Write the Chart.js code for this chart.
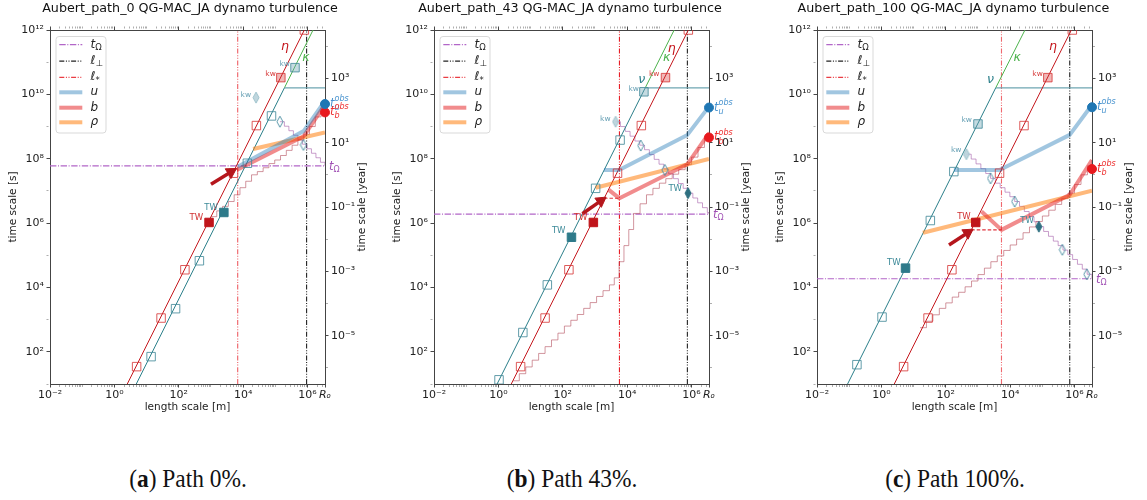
<!DOCTYPE html>
<html><head><meta charset="utf-8">
<script src="https://cdn.jsdelivr.net/npm/chart.js@4.4.1/dist/chart.umd.min.js"></script>
<style>
html,body{margin:0;padding:0;background:#fff;}
body{width:1147px;height:500px;position:relative;overflow:hidden;}
canvas{position:absolute;top:0;}
.cap{position:absolute;top:464px;font-family:"Liberation Serif","DejaVu Serif",serif;font-size:26px;line-height:29px;color:#111;white-space:nowrap;transform:translateX(-50%) scaleX(0.9);}
.cap b{font-weight:bold;}
</style></head><body>
<script>
Chart.defaults.font.family = "'DejaVu Sans', sans-serif";
Chart.defaults.color = '#222';

// ---------------- data (log10 of metres for x, log10 of seconds for y) ----------------
const RO = 3.48e6, LOG_RO = Math.log10(RO), YEAR = 3.15576e7;

const xTickVals = [1e-2, 1, 1e2, 1e4, 1e6];
const xTickLabels = ['10⁻²', '10⁰', '10²', '10⁴', '10⁶'];
const roTickLabel = 'Rₒ';
const yTickVals = [1e2, 1e4, 1e6, 1e8, 1e10, 1e12];
const yTickLabels = ['10²', '10⁴', '10⁶', '10⁸', '10¹⁰', '10¹²'];
const yrTickVals = [1e-5, 1e-3, 1e-1, 1e1, 1e3];
const yrTickLabels = ['10⁻⁵', '10⁻³', '10⁻¹', '10¹', '10³'];

const titles = ['Aubert_path_0 QG-MAC_JA dynamo turbulence',
                'Aubert_path_43 QG-MAC_JA dynamo turbulence',
                'Aubert_path_100 QG-MAC_JA dynamo turbulence'];
const captionKeys = ['a', 'b', 'c'];
const captionTexts = ['Path 0%.', 'Path 43%.', 'Path 100%.'];

const tOmega = [7.78, 6.28, 4.27];
const lPerp = [5.97, 5.87, 5.85];
const lStar = [3.83, 3.76, 3.73];
const obsU = [9.70, 9.59, 9.60];
const obsB = [9.44, 8.66, 7.68];

const etaLine = [[0.4, 1.0], [5.9, 12.0]];
const nuBottomX = [0.68, -0.04, -1.05];
const nuKinkX = [5.28, 4.56, 3.55];
const nuFlatY = [10.2, 10.2, 10.2];
const kappaTopX = [6.17, 5.46, 4.46];

const uA = [[3.83, 7.75], [5.88, 8.86], [6.54, 9.80]];
const bA = [[3.80, 7.65], [5.88, 8.70], [6.54, 9.68]];
const rhoA = [[4.31, 8.30], [6.54, 8.82]];
const uB = [[3.28, 7.65], [3.75, 7.65], [5.87, 8.74], [6.54, 9.62]];
const bB = [[3.43, 7.03], [3.76, 6.77], [5.87, 7.83], [6.54, 8.79]];
const rhoB = [[3.02, 7.10], [6.54, 7.99]];
const uC = [[2.25, 7.65], [3.67, 7.65], [5.85, 8.74], [6.54, 9.67]];
const bC = [[3.11, 6.36], [3.73, 5.79], [5.85, 6.88], [6.54, 7.96]];
const rhoC = [[1.29, 5.70], [6.54, 7.01]];

const stairUpAx = [3.0, 3.18, 3.36, 3.54, 3.72, 3.9, 4.08, 4.26, 4.44, 4.62, 4.8, 4.98, 5.16, 5.34, 5.52, 5.7, 5.88, 6.06, 6.24, 6.42, 6.54];
const stairUpAy = [6.2, 6.38, 6.52, 6.67, 6.88, 7.1, 7.3, 7.5, 7.6, 7.72, 7.85, 7.96, 8.1, 8.26, 8.42, 8.58, 8.76, 9.0, 9.3, 9.58, 9.75];
const stairUpBx = [0.45, 0.65, 0.85, 1.05, 1.25, 1.45, 1.65, 1.85, 2.05, 2.25, 2.45, 2.65, 2.85, 3.05, 3.25, 3.45, 3.6, 3.75, 3.9, 4.05, 4.2, 4.4, 4.6, 4.8, 5.0, 5.2, 5.4, 5.6, 5.8, 6.0, 6.2, 6.4, 6.54];
const stairUpBy = [1.1, 1.32, 1.53, 1.74, 1.95, 2.16, 2.37, 2.58, 2.8, 2.98, 3.16, 3.35, 3.53, 3.72, 3.9, 4.08, 4.3, 4.8, 5.3, 5.8, 6.3, 6.6, 6.88, 7.08, 7.24, 7.38, 7.52, 7.66, 7.82, 8.05, 8.35, 8.65, 8.84];
const stairUpCx = [1.2, 1.4, 1.6, 1.8, 2.0, 2.2, 2.4, 2.6, 2.8, 3.0, 3.2, 3.4, 3.6, 3.8, 4.0, 4.2, 4.4, 4.6, 4.8, 5.0, 5.2, 5.4, 5.6, 5.8, 6.0, 6.2, 6.4, 6.54];
const stairUpCy = [2.75, 2.95, 3.15, 3.35, 3.52, 3.7, 3.85, 4.02, 4.2, 4.4, 4.6, 4.8, 4.98, 5.15, 5.32, 5.5, 5.7, 5.88, 6.05, 6.22, 6.4, 6.58, 6.76, 6.93, 7.2, 7.5, 7.78, 7.96];

const stairDnAx = [5.14, 5.28, 5.42, 5.56, 5.7, 5.84, 5.98, 6.12, 6.26, 6.4, 6.54];
const stairDnAy = [9.15, 9.01, 8.87, 8.73, 8.59, 8.45, 8.31, 8.17, 8.03, 7.89, 7.78];
const stairDnBx = [3.64, 3.79, 3.94, 4.09, 4.24, 4.39, 4.54, 4.69, 4.84, 4.99, 5.14, 5.29, 5.44, 5.59, 5.74, 5.89, 6.04, 6.19, 6.34, 6.49, 6.54];
const stairDnBy = [9.15, 9.0, 8.85, 8.7, 8.55, 8.42, 8.28, 8.13, 7.98, 7.83, 7.68, 7.53, 7.38, 7.23, 7.08, 6.93, 6.78, 6.63, 6.48, 6.33, 6.28];
const stairDnCx = [2.64, 2.79, 2.94, 3.09, 3.24, 3.39, 3.54, 3.69, 3.84, 3.99, 4.14, 4.29, 4.44, 4.59, 4.74, 4.89, 5.04, 5.19, 5.34, 5.49, 5.64, 5.79, 5.94, 6.09, 6.24, 6.39, 6.54];
const stairDnCy = [8.14, 7.99, 7.84, 7.69, 7.54, 7.39, 7.24, 7.1, 6.96, 6.82, 6.67, 6.52, 6.36, 6.2, 6.04, 5.89, 5.74, 5.59, 5.44, 5.3, 5.16, 5.02, 4.87, 4.72, 4.57, 4.41, 4.26];

const redSqA = [[0.69, 1.54], [1.45, 3.05], [2.19, 4.55], [3.70, 7.55], [4.41, 9.03], [5.90, 12.0]];
const redTwA = [[2.94, 6.02]];
const redKwA = [[5.17, 10.52]];
const tealSqA = [[1.14, 1.85], [1.90, 3.34], [2.64, 4.83], [4.13, 7.86], [4.88, 9.33]];
const tealTwA = [[3.40, 6.33]];
const tealKwA = [[5.61, 10.83]];
const diaA = [[5.14, 9.15], [5.87, 8.43]];
const diaKwA = [[4.40, 9.90]];
const diaTwA = [];

const redSqB = [[0.69, 1.54], [1.45, 3.05], [2.19, 4.55], [3.70, 7.55], [4.44, 9.03], [5.90, 12.0]];
const redTwB = [[2.95, 6.02]];
const redKwB = [[5.19, 10.52]];
const tealSqB = [[0.02, 1.13], [0.76, 2.60], [1.52, 4.08], [3.02, 7.08], [3.78, 8.58]];
const tealTwB = [[2.27, 5.56]];
const tealKwB = [[4.52, 10.08]];
const diaB = [[4.42, 8.41], [5.17, 7.65]];
const diaKwB = [[3.64, 9.15]];
const diaTwB = [[5.89, 6.93]];

const redSqC = [[0.69, 1.54], [1.45, 3.05], [2.19, 4.55], [3.67, 7.55], [4.43, 9.03], [5.93, 12.0]];
const redTwC = [[2.93, 6.02]];
const redKwC = [[5.17, 10.52]];
const tealSqC = [[-0.76, 1.60], [0.02, 3.08], [1.52, 6.08], [2.25, 7.60]];
const tealTwC = [[0.75, 4.60]];
const tealKwC = [[3.0, 9.08]];
const diaC = [[3.39, 7.39], [4.14, 6.67], [5.62, 5.17], [6.38, 4.41]];
const diaKwC = [[2.64, 8.14]];
const diaTwC = [[4.89, 5.89]];

const arrowA = [[3.0, 7.21], [3.62, 7.59]];
const arrowB = [[2.61, 6.29], [3.18, 6.69]];
const arrowC = [[2.10, 5.32], [2.68, 5.70]];
const dashB = [[3.28, 6.77], [3.76, 6.77]];
const dashC = [[2.79, 5.79], [3.73, 5.79]];

const etaLabel = [[5.30, 11.48], [5.38, 11.43], [5.33, 11.48]];
const kappaLabel = [[5.95, 11.15], [5.23, 11.15], [4.22, 11.15]];
const nuLabel = [null, [4.45, 10.45], [3.39, 10.45]];

// ---------------- styles ----------------
const C = {
  omega: '#b266c8', perp: '#222222', star: ['rgba(232,40,48,0.75)', 'rgba(232,30,38,1)', 'rgba(232,40,48,0.7)'],
  eta: '#c4161c', nu: '#2b7f8a', nuFlat: '#6ea6b2', kappa: '#4db34d',
  u: 'rgba(31,119,180,0.42)', b: 'rgba(228,26,28,0.5)', rho: 'rgba(255,127,14,0.55)',
  up: 'rgba(180,80,95,0.6)', dn: 'rgba(165,95,170,0.6)',
  redSq: 'rgba(214,50,50,0.8)', tealSq: 'rgba(70,140,155,0.85)',
  redTw: '#c0151b', tealTw: '#2e7a8a', redKwFill: 'rgba(214,50,50,0.35)', tealKwFill: 'rgba(110,165,180,0.4)',
  obsU: '#1f77b4', obsB: '#e8191e', obsULab: '#4a94cf', obsBLab: '#ee3030',
  twTealLab: '#3d8a99', twRedLab: '#d03030', kwTealLab: '#6aa2b6', kwRedLab: '#d84040', omegaLab: '#a050b4'
};
const DASHDOT = [6.4, 1.6, 1, 1.6];
const DASHDOTDOT = [5, 1.6, 1, 1.6, 1, 1.6];

function thinDiamond(fill, stroke) {
  const c = document.createElement('canvas'); const w = 8, h = 13; c.width = w; c.height = h;
  const g = c.getContext('2d'); g.beginPath();
  g.moveTo(w / 2, 1); g.lineTo(w - 1, h / 2); g.lineTo(w / 2, h - 1); g.lineTo(1, h / 2); g.closePath();
  if (fill) { g.fillStyle = fill; g.fill(); }
  if (stroke) { g.strokeStyle = stroke; g.lineWidth = 1; g.stroke(); }
  return c;
}
const DIA_OPEN = thinDiamond(null, 'rgba(70,140,160,0.9)');
const DIA_KW = thinDiamond('rgba(185,210,218,0.9)', 'rgba(150,190,200,0.9)');
const DIA_TW = thinDiamond('#2e6f80', '#2e6f80');

const pts = arr => arr.map(p => ({x: 10 ** p[0], y: 10 ** p[1]}));
const zipPts = (xs, ys) => xs.map((v, i) => ({x: 10 ** v, y: 10 ** ys[i]}));
const M = (t, s, i = true, dy = 0, stack = false) => ({t, s, i, dy, stack});

const legendItems = [
  {color: C.omega, w: 1.3, dash: DASHDOT, parts: [M('t', 12), M('Ω', 8.5, false, 3)]},
  {color: C.perp, w: 1.2, dash: DASHDOTDOT, parts: [M('ℓ', 12), M('⊥', 8.5, false, 3)]},
  {color: 'rgba(232,40,48,0.9)', w: 1.2, dash: DASHDOTDOT, parts: [M('ℓ', 12), M('*', 8.5, false, 3)]},
  {color: C.u, w: 4, dash: [], parts: [M('u', 12)]},
  {color: C.b, w: 4, dash: [], parts: [M('b', 12)]},
  {color: C.rho, w: 4, dash: [], parts: [M('ρ', 12)]}
];

function drawMath(ctx, x, y, parts, color, align) {
  let cur = 0, prevStart = 0, maxX = 0; const lay = [];
  for (const p of parts) {
    ctx.font = (p.i ? 'italic ' : '') + p.s + 'px "DejaVu Sans"';
    const tw = ctx.measureText(p.t).width;
    const px = p.stack ? prevStart : cur; prevStart = px;
    const end = px + tw; maxX = Math.max(maxX, end);
    cur = p.stack ? Math.max(cur, end) : end;
    lay.push({p, px});
  }
  const x0 = align === 'right' ? x - maxX : align === 'center' ? x - maxX / 2 : x;
  ctx.fillStyle = color; ctx.textBaseline = 'middle'; ctx.textAlign = 'left';
  for (const {p, px} of lay) {
    ctx.font = (p.i ? 'italic ' : '') + p.s + 'px "DejaVu Sans"';
    ctx.fillText(p.t, x0 + px, y + p.dy);
  }
}

const annotPlugin = {
  id: 'annot',
  afterDatasetsDraw(chart, args, opts) {
    const {ctx, chartArea: ca} = chart; const xs = chart.scales.x, ys = chart.scales.y;
    ctx.save();
    // legend box
    const lx = ca.left + 6, ly = ca.top + 6.5, lw = 50, lh = 96.5, r = 3;
    ctx.beginPath(); ctx.moveTo(lx + r, ly); ctx.lineTo(lx + lw - r, ly); ctx.quadraticCurveTo(lx + lw, ly, lx + lw, ly + r);
    ctx.lineTo(lx + lw, ly + lh - r); ctx.quadraticCurveTo(lx + lw, ly + lh, lx + lw - r, ly + lh);
    ctx.lineTo(lx + r, ly + lh); ctx.quadraticCurveTo(lx, ly + lh, lx, ly + lh - r); ctx.lineTo(lx, ly + r); ctx.quadraticCurveTo(lx, ly, lx + r, ly);
    ctx.fillStyle = 'rgba(255,255,255,0.85)'; ctx.fill(); ctx.strokeStyle = '#d9d9d9'; ctx.lineWidth = 1; ctx.stroke();
    const rows = [14.7, 31.2, 47.3, 62.3, 77.7, 92.3];
    legendItems.forEach((it, k) => {
      const yy = ca.top + rows[k];
      ctx.beginPath(); ctx.setLineDash(it.dash); ctx.strokeStyle = it.color; ctx.lineWidth = it.w;
      ctx.moveTo(ca.left + 9.3, yy); ctx.lineTo(ca.left + 32.3, yy); ctx.stroke(); ctx.setLineDash([]);
      drawMath(ctx, ca.left + 40.5, yy, it.parts, '#222', 'left');
    });
    for (const it of opts.items) {
      const px = xs.getPixelForValue(10 ** it.p[0]) + (it.dx || 0);
      const py = ys.getPixelForValue(10 ** it.p[1]) + (it.dy || 0);
      drawMath(ctx, px, py, it.parts, it.color, it.align || 'left');
    }
    ctx.font = '10.5px "DejaVu Sans"'; ctx.fillStyle = '#222'; ctx.textAlign = 'center'; ctx.textBaseline = 'middle';
    ctx.translate(ca.right + 37, (ca.top + ca.bottom) / 2); ctx.rotate(-Math.PI / 2); ctx.fillText(opts.rightTitle, 0, 0);
    ctx.restore();
  }
};

// ---------------- ticks ----------------
const near = (a, b) => Math.abs(Math.log10(a) - Math.log10(b)) < 1e-6;
function ticksFrom(majors, minors) {
  return majors.map(v => ({value: v, major: true})).concat(minors.map(v => ({value: v, major: false})));
}
const xMinorDec = [1e-1, 1e1, 1e3, 1e5];
const subs = [];
for (let e = -2; e <= 6; e++) for (let k = 2; k <= 9; k++) { const v = k * 10 ** e; if (v < RO) subs.push(v); }
const yMinorDec = [1e1, 1e3, 1e5, 1e7, 1e9, 1e11];
const yrMinorDec = [1e-6, 1e-4, 1e-2, 1, 1e2, 1e4];

const tickColor = c => (c.tick && c.tick.major) ? '#333' : '#777';
const tickWidth = c => (c.tick && c.tick.major) ? 0.9 : 0.6;
const tickDash = c => (c.tick && c.tick.major) ? [] : [2, 30];

// ---------------- panels ----------------
const geom = [
  {left: 0, width: 380, plotL: 50, plotR: 325},
  {left: 380, width: 380, plotL: 434, plotR: 709},
  {left: 760, width: 387, plotL: 817, plotR: 1092}
];
const panelData = [
  {u: uA, b: bA, rho: rhoA, upX: stairUpAx, upY: stairUpAy, dnX: stairDnAx, dnY: stairDnAy,
   redSq: redSqA, redTw: redTwA, redKw: redKwA, tealSq: tealSqA, tealTw: tealTwA, tealKw: tealKwA,
   dia: diaA, diaKw: diaKwA, diaTw: diaTwA, arrow: arrowA, dash: null},
  {u: uB, b: bB, rho: rhoB, upX: stairUpBx, upY: stairUpBy, dnX: stairDnBx, dnY: stairDnBy,
   redSq: redSqB, redTw: redTwB, redKw: redKwB, tealSq: tealSqB, tealTw: tealTwB, tealKw: tealKwB,
   dia: diaB, diaKw: diaKwB, diaTw: diaTwB, arrow: arrowB, dash: dashB},
  {u: uC, b: bC, rho: rhoC, upX: stairUpCx, upY: stairUpCy, dnX: stairDnCx, dnY: stairDnCy,
   redSq: redSqC, redTw: redTwC, redKw: redKwC, tealSq: tealSqC, tealTw: tealTwC, tealKw: tealKwC,
   dia: diaC, diaKw: diaKwC, diaTw: diaTwC, arrow: arrowC, dash: dashC}
];
const H = 420, TITLE_SIZE = 12.7;

function lineDs(label, data, o) {
  return Object.assign({label, data, pointRadius: 0, pointHoverRadius: 0, borderWidth: 1, fill: false, tension: 0,
    borderJoinStyle: 'round', borderCapStyle: 'butt'}, o);
}
function markDs(label, arr, style, r, border, bg, order) {
  return {label, data: pts(arr), showLine: false, pointStyle: style, pointRadius: r, pointHoverRadius: r,
    pointBorderColor: border, pointBackgroundColor: bg, pointBorderWidth: 1, order};
}
function labelItems(i, D) {
  const items = [];
  items.push({p: etaLabel[i], dx: 0, dy: 0, align: 'center', color: C.eta, parts: [M('η', 12.5)]});
  items.push({p: kappaLabel[i], dx: 0, dy: 0, align: 'center', color: C.kappa, parts: [M('κ', 12.5)]});
  if (nuLabel[i]) items.push({p: nuLabel[i], dx: 0, dy: 0, align: 'center', color: C.nu, parts: [M('ν', 12.5)]});
  const tw = (p, col, dx, dy) => items.push({p, dx, dy, align: 'right', color: col, parts: [M('TW', 8.5, false)]});
  const kw = (p, col, dx, dy) => items.push({p, dx, dy, align: 'right', color: col, parts: [M('kw', 7.5, false)]});
  const twOff = [[[-6, -5], [-6, -5], null], [[-6, -6], [-6, -5], [-6, -4]], [[-5, -5], [-5, -6], [-5, -6]]][i];
  const kwOff = [[[-5, -4], [-5, -4], [-5, -3]], [[-5, -3], [-6, -4], [-5, -3]], [[-6, -4], [-5, -4], [-5, -4]]][i];
  tw(D.tealTw[0], C.twTealLab, ...twOff[0]);
  tw(D.redTw[0], C.twRedLab, ...twOff[1]);
  if (D.diaTw.length) tw(D.diaTw[0], C.twTealLab, ...twOff[2]);
  kw(D.tealKw[0], C.kwTealLab, ...kwOff[0]);
  kw(D.redKw[0], C.kwRedLab, ...kwOff[1]);
  kw(D.diaKw[0], C.kwTealLab, ...kwOff[2]);
  items.push({p: [LOG_RO, tOmega[i]], dx: 4, dy: 1, align: 'left', color: C.omegaLab, parts: [M('t', 11.5), M('Ω', 8, false, 3)]});
  items.push({p: [LOG_RO, obsU[i]], dx: 5, dy: 0, align: 'left', color: C.obsULab,
    parts: [M('t', 11.5), M('obs', 8, true, -5), M('u', 8, true, 4, true)]});
  items.push({p: [LOG_RO, obsB[i]], dx: 5, dy: 0, align: 'left', color: C.obsBLab,
    parts: [M('t', 11.5), M('obs', 8, true, -5), M('b', 8, true, 4, true)]});
  return items;
}

function buildPanel(i) {
  const G = geom[i], D = panelData[i];
  const yW = G.plotL - G.left, y2W = G.left + G.width - G.plotR;
  const cv = document.createElement('canvas');
  cv.width = G.width; cv.height = H; cv.style.left = G.left + 'px'; cv.style.width = G.width + 'px'; cv.style.height = H + 'px';
  document.body.appendChild(cv);

  const ar = D.arrow; const rot = Math.atan2(ar[1][0] - ar[0][0], ar[1][1] - ar[0][1]) * 180 / Math.PI;
  const datasets = [
    lineDs('t_Omega', pts([[-2, tOmega[i]], [LOG_RO, tOmega[i]]]), {borderColor: C.omega, borderWidth: 1.2, borderDash: DASHDOT, order: 20}),
    lineDs('l_perp', pts([[lPerp[i], 1], [lPerp[i], 12]]), {borderColor: C.perp, borderWidth: 1.1, borderDash: DASHDOTDOT, order: 20}),
    lineDs('l_star', pts([[lStar[i], 1], [lStar[i], 12]]), {borderColor: C.star[i], borderWidth: 1.1, borderDash: DASHDOTDOT, order: 20}),
    lineDs('stair up', zipPts(D.upX, D.upY), {borderColor: C.up, borderWidth: 1, stepped: true, order: 18}),
    lineDs('stair down', zipPts(D.dnX, D.dnY), {borderColor: C.dn, borderWidth: 1, stepped: true, order: 18}),
    lineDs('eta', pts(etaLine), {borderColor: C.eta, borderWidth: 1, order: 15}),
    lineDs('nu', pts([[nuBottomX[i], 1.0], [nuKinkX[i], nuFlatY[i]]]), {borderColor: C.nu, borderWidth: 1, order: 15}),
    lineDs('nu flat', pts([[nuKinkX[i], nuFlatY[i]], [LOG_RO, nuFlatY[i]]]), {borderColor: C.nuFlat, borderWidth: 1.3, order: 15}),
    lineDs('kappa', pts([[nuKinkX[i], nuFlatY[i]], [kappaTopX[i], 12]]), {borderColor: C.kappa, borderWidth: 1, order: 15}),
    lineDs('rho', pts(D.rho), {borderColor: C.rho, borderWidth: 4, order: 12}),
    lineDs('b', pts(D.b), {borderColor: C.b, borderWidth: 4, order: 11}),
    lineDs('u', pts(D.u), {borderColor: C.u, borderWidth: 4, order: 10}),
    markDs('eta squares', D.redSq, 'rect', 6, C.redSq, 'rgba(0,0,0,0)', 8),
    markDs('nu squares', D.tealSq, 'rect', 6, C.tealSq, 'rgba(0,0,0,0)', 8),
    markDs('eta kw', D.redKw, 'rect', 6, C.redSq, C.redKwFill, 7),
    markDs('nu kw', D.tealKw, 'rect', 6, C.tealSq, C.tealKwFill, 7),
    markDs('eta TW', D.redTw, 'rect', 6, C.redTw, C.redTw, 6),
    markDs('nu TW', D.tealTw, 'rect', 6, C.tealTw, C.tealTw, 6),
    markDs('diamonds', D.dia, DIA_OPEN, 6, C.tealSq, 'rgba(0,0,0,0)', 7),
    markDs('diamond kw', D.diaKw, DIA_KW, 6, C.tealSq, 'rgba(0,0,0,0)', 7),
    markDs('diamond TW', D.diaTw, DIA_TW, 6, C.tealTw, C.tealTw, 6),
    lineDs('arrow', pts(ar), {borderColor: '#b5161c', borderWidth: 3.5, pointRadius: [0, 6.5], pointHoverRadius: 0,
      pointStyle: 'triangle', pointRotation: rot, pointBackgroundColor: '#b5161c', pointBorderColor: '#b5161c', pointBorderWidth: 1, order: 4}),
    Object.assign(markDs('obs u', [[LOG_RO, obsU[i]]], 'circle', 4.5, C.obsU, C.obsU, 3), {clip: false}),
    Object.assign(markDs('obs b', [[LOG_RO, obsB[i]]], 'circle', 4.5, C.obsB, C.obsB, 3), {clip: false})
  ];
  if (D.dash) datasets.push(lineDs('b min', pts(D.dash), {borderColor: 'rgba(220,30,40,0.9)', borderWidth: 1.1, borderDash: [3.5, 2], order: 13}));

  const axisFont = {family: "'DejaVu Sans', sans-serif", size: 11};
  const titleLH = TITLE_SIZE * 1.2;
  new Chart(cv, {
    type: 'line',
    data: {datasets},
    plugins: [annotPlugin],
    options: {
      responsive: false, animation: false, devicePixelRatio: 1, events: [],
      layout: {padding: {left: 0, right: 0, top: 0, bottom: 4}},
      plugins: {
        legend: {display: false}, tooltip: {enabled: false},
        title: {display: true, text: titles[i], fullSize: true, color: '#111',
          font: {family: "'DejaVu Sans', sans-serif", size: TITLE_SIZE, weight: 'normal'}, padding: {top: 1, bottom: 2}},
        annot: {items: labelItems(i, D), rightTitle: 'time scale [year]'}
      },
      scales: {
        x: {
          type: 'logarithmic', position: 'bottom', min: 1e-2, max: RO,
          afterBuildTicks: s => { s.ticks = ticksFrom(xTickVals.concat([RO]), xMinorDec.concat(subs)); },
          afterFit: s => { s.height = 32; },
          ticks: {autoSkip: false, maxRotation: 0, minRotation: 0, padding: 1.5, color: '#222',
            font: c => ({family: "'DejaVu Sans', sans-serif", size: 11, style: (c.tick && near(c.tick.value, RO)) ? 'italic' : 'normal'}),
            callback: v => { if (near(v, RO)) return roTickLabel; const k = xTickVals.findIndex(t => near(t, v)); return k >= 0 ? xTickLabels[k] : ''; }},
          grid: {drawOnChartArea: false, drawTicks: true, tickLength: 3.5, color: tickColor, tickColor: tickColor, tickWidth: tickWidth, tickBorderDash: tickDash},
          border: {display: true, color: '#444', width: 1},
          title: {display: true, text: 'length scale [m]', color: '#222', font: {family: "'DejaVu Sans', sans-serif", size: 10.5}, padding: {top: 0, bottom: 2}}
        },
        xt: {
          type: 'logarithmic', position: 'top', min: 1e-2, max: RO,
          afterBuildTicks: s => { s.ticks = ticksFrom(xTickVals, xMinorDec.concat(subs)); },
          afterFit: s => { s.height = 30 - (titleLH + 3); },
          ticks: {display: false},
          grid: {drawOnChartArea: false, drawTicks: true, tickLength: 3.5, color: tickColor, tickColor: tickColor, tickWidth: tickWidth, tickBorderDash: tickDash},
          border: {display: true, color: '#444', width: 1}
        },
        y: {
          type: 'logarithmic', position: 'left', min: 10, max: 1e12,
          afterBuildTicks: s => { s.ticks = ticksFrom(yTickVals, yMinorDec); },
          afterFit: s => { s.width = yW; },
          ticks: {autoSkip: false, padding: 2.5, color: '#222', font: axisFont,
            callback: v => { const k = yTickVals.findIndex(t => near(t, v)); return k >= 0 ? yTickLabels[k] : ''; }},
          grid: {drawOnChartArea: false, drawTicks: true, tickLength: 3.5, color: tickColor, tickColor: tickColor, tickWidth: tickWidth, tickBorderDash: tickDash},
          border: {display: true, color: '#444', width: 1},
          title: {display: true, text: 'time scale [s]', color: '#222', font: {family: "'DejaVu Sans', sans-serif", size: 10.5}, padding: {top: yW - 37 - 6.3, bottom: 0}}
        },
        y2: {
          type: 'logarithmic', position: 'right', min: 10 / YEAR, max: 1e12 / YEAR,
          afterBuildTicks: s => { s.ticks = ticksFrom(yrTickVals, yrMinorDec); },
          afterFit: s => { s.width = y2W; },
          ticks: {autoSkip: false, padding: 2.5, color: '#222', font: axisFont,
            callback: v => { const k = yrTickVals.findIndex(t => near(t, v)); return k >= 0 ? yrTickLabels[k] : ''; }},
          grid: {drawOnChartArea: false, drawTicks: true, tickLength: 3.5, color: tickColor, tickColor: tickColor, tickWidth: tickWidth, tickBorderDash: tickDash},
          border: {display: true, color: '#444', width: 1}
        }
      }
    }
  });

  const cap = document.createElement('div');
  cap.className = 'cap'; cap.style.left = ((G.plotL + G.plotR) / 2) + 'px';
  const bk = document.createElement('b'); bk.textContent = captionKeys[i];
  cap.appendChild(document.createTextNode('(')); cap.appendChild(bk);
  cap.appendChild(document.createTextNode(') ' + captionTexts[i]));
  document.body.appendChild(cap);
}
[0, 1, 2].forEach(buildPanel);
</script>
</body></html>
